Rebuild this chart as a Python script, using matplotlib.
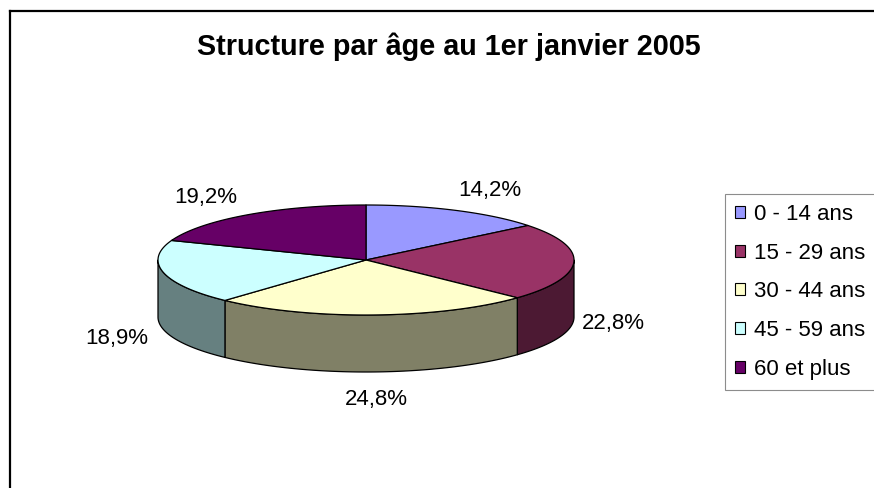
import numpy as np
import matplotlib.pyplot as plt
from matplotlib.patches import Polygon, Patch

# age groups and their share of the population (%)
categories = ["0 - 14 ans", "15 - 29 ans", "30 - 44 ans", "45 - 59 ans", "60 et plus"]
shares = [14.2, 22.8, 24.8, 18.9, 19.2]
top_colors = ["#9999FF", "#993366", "#FFFFCC", "#CCFFFF", "#660066"]
side_colors = ["#4C4C80", "#4C1933", "#808066", "#668080", "#330033"]
title = "Structure par âge au 1er janvier 2005"

plt.rcParams['font.family'] = ['Liberation Sans', 'DejaVu Sans']

# pie geometry in pixel units
cx, cy = 366, 260
a, b = 208, 55
depth = 57

def ell(t, dy=0.0):
    r = np.radians(t)
    return np.column_stack([cx + a*np.cos(r), cy - b*np.sin(r) + dy])

fig = plt.figure(figsize=(8.74, 4.88), dpi=100)
ax = fig.add_axes([0, 0, 1, 1])
ax.set_xlim(0, 874)
ax.set_ylim(488, 0)
ax.axis('off')

# outer chart frame (right and bottom edges fall outside the picture)
ax.plot([10, 10], [488, 11], color='black', lw=1.6, solid_capstyle='projecting')
ax.plot([10, 874], [11, 11], color='black', lw=1.6, solid_capstyle='projecting')

tot = sum(shares)
bounds = 90 - 360*np.cumsum([0] + shares)/tot

# side walls (front half only)
for i in range(len(shares)):
    t0, t1 = bounds[i], bounds[i+1]
    lo, hi = max(t1, -180), min(t0, 0)
    if lo >= hi:
        continue
    t = np.linspace(hi, lo, 80)
    pts = np.vstack([ell(t), ell(t[::-1], depth)])
    ax.add_patch(Polygon(pts, closed=True, facecolor=side_colors[i],
                         edgecolor='black', lw=0.9, joinstyle='round'))

# top faces
for i in range(len(shares)):
    t = np.linspace(bounds[i], bounds[i+1], 100)
    pts = np.vstack([[cx, cy], ell(t)])
    ax.add_patch(Polygon(pts, closed=True, facecolor=top_colors[i],
                         edgecolor='black', lw=0.9, joinstyle='round'))

# percentage labels
for i, v in enumerate(shares):
    m = np.radians((bounds[i] + bounds[i+1])/2)
    s, c = np.sin(m), np.cos(m)
    x = cx + c*(a + 38 + 44*abs(s))
    y = cy + 3 - (b + 25)*s + (depth if s < 0 else 0)
    ax.text(x, y, f"{v:.1f}%".replace(".", ","), fontsize=16,
            ha='center', va='center')

ax.text(449, 55, title, fontsize=20.7, fontweight='bold',
        ha='center', va='baseline')

handles = [Patch(facecolor=col, edgecolor='black', lw=0.8) for col in top_colors]
leg = ax.legend(handles, categories, loc='upper left',
                bbox_to_anchor=(725, 194), bbox_transform=ax.transData,
                borderaxespad=0, fontsize=16, frameon=True, fancybox=False,
                handlelength=0.45, handleheight=0.45, handletextpad=0.42,
                labelspacing=0.8, borderpad=0.44)
leg.get_frame().set_edgecolor('#707070')
leg.get_frame().set_linewidth(0.8)

fig.savefig('out.png', dpi=100)
